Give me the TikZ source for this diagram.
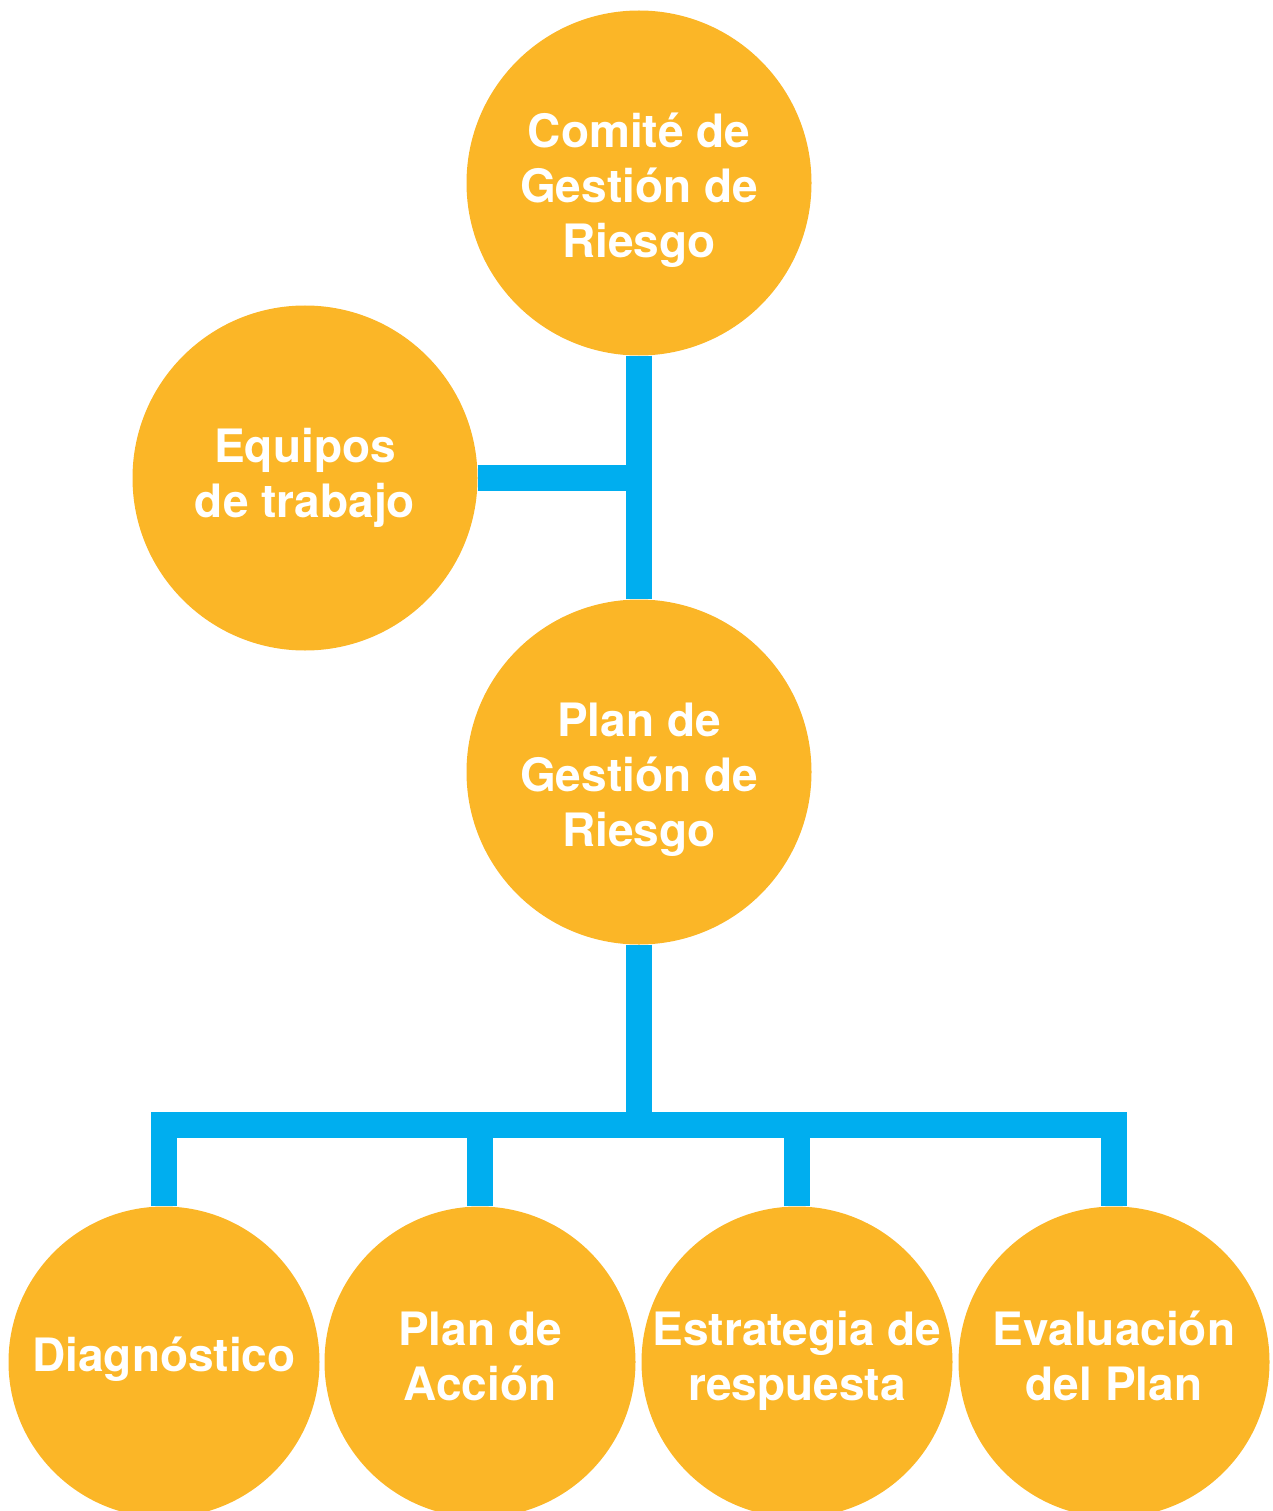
\documentclass[tikz,border=0pt]{standalone}
\usepackage{fontspec}
\setmainfont{TeX Gyre Heros}
\usetikzlibrary{backgrounds}
\definecolor{orng}{HTML}{FBB627}
\definecolor{cblue}{HTML}{00AEEF}
\newcommand\shiftedtext[2]{\raisebox{#1}[\height][\depth]{\begin{tabular}{@{}c@{}}#2\end{tabular}}}
\begin{document}
\begin{tikzpicture}[x=1pt,y=-1pt,
  bubble/.style={circle,fill=orng,draw=none,inner sep=0pt,align=center,text=white,
    font=\fontsize{46}{55}\selectfont\bfseries},
  big/.style={bubble,minimum size=345pt},
  small/.style={bubble,minimum size=311pt},
  conn/.style={draw=cblue,line width=26pt,line join=miter}]
\useasboundingbox (0,0) rectangle (1272,1511);
\clip (0,0) rectangle (1272,1511);
% nodes
\node[big] (top) at (639,183) {\shiftedtext{-9pt}{Comité de\\Gestión de\\Riesgo}};
\node[big] (eq) at (305,478) {\shiftedtext{-1pt}{Equipos\\de trabajo}};
\node[big] (plan) at (639,772) {\shiftedtext{-8pt}{Plan de\\Gestión de\\Riesgo}};
\node[small] (diag) at (164,1362) {\shiftedtext{2pt}{Diagnóstico}};
\node[small] (acc) at (480,1362) {\shiftedtext{0pt}{Plan de\\Acción}};
\node[small] (est) at (797,1362) {\shiftedtext{0pt}{Estrategia de\\respuesta}};
\node[small] (ev) at (1114,1362) {\shiftedtext{0pt}{Evaluación\\del Plan}};
\coordinate (b) at (639,1125);
% connectors
\begin{pgfonlayer}{background}
\path[conn] (top.south) -- (plan.north);
\path[conn] (eq.east) -- (eq.east -| top.south);
\path[conn] (plan.south) -- (b);
\path[conn] (diag.north) |- (b) -| (ev.north);
\path[conn] (acc.north) -- (acc.north |- b);
\path[conn] (est.north) -- (est.north |- b);
\end{pgfonlayer}
\end{tikzpicture}
\end{document}
